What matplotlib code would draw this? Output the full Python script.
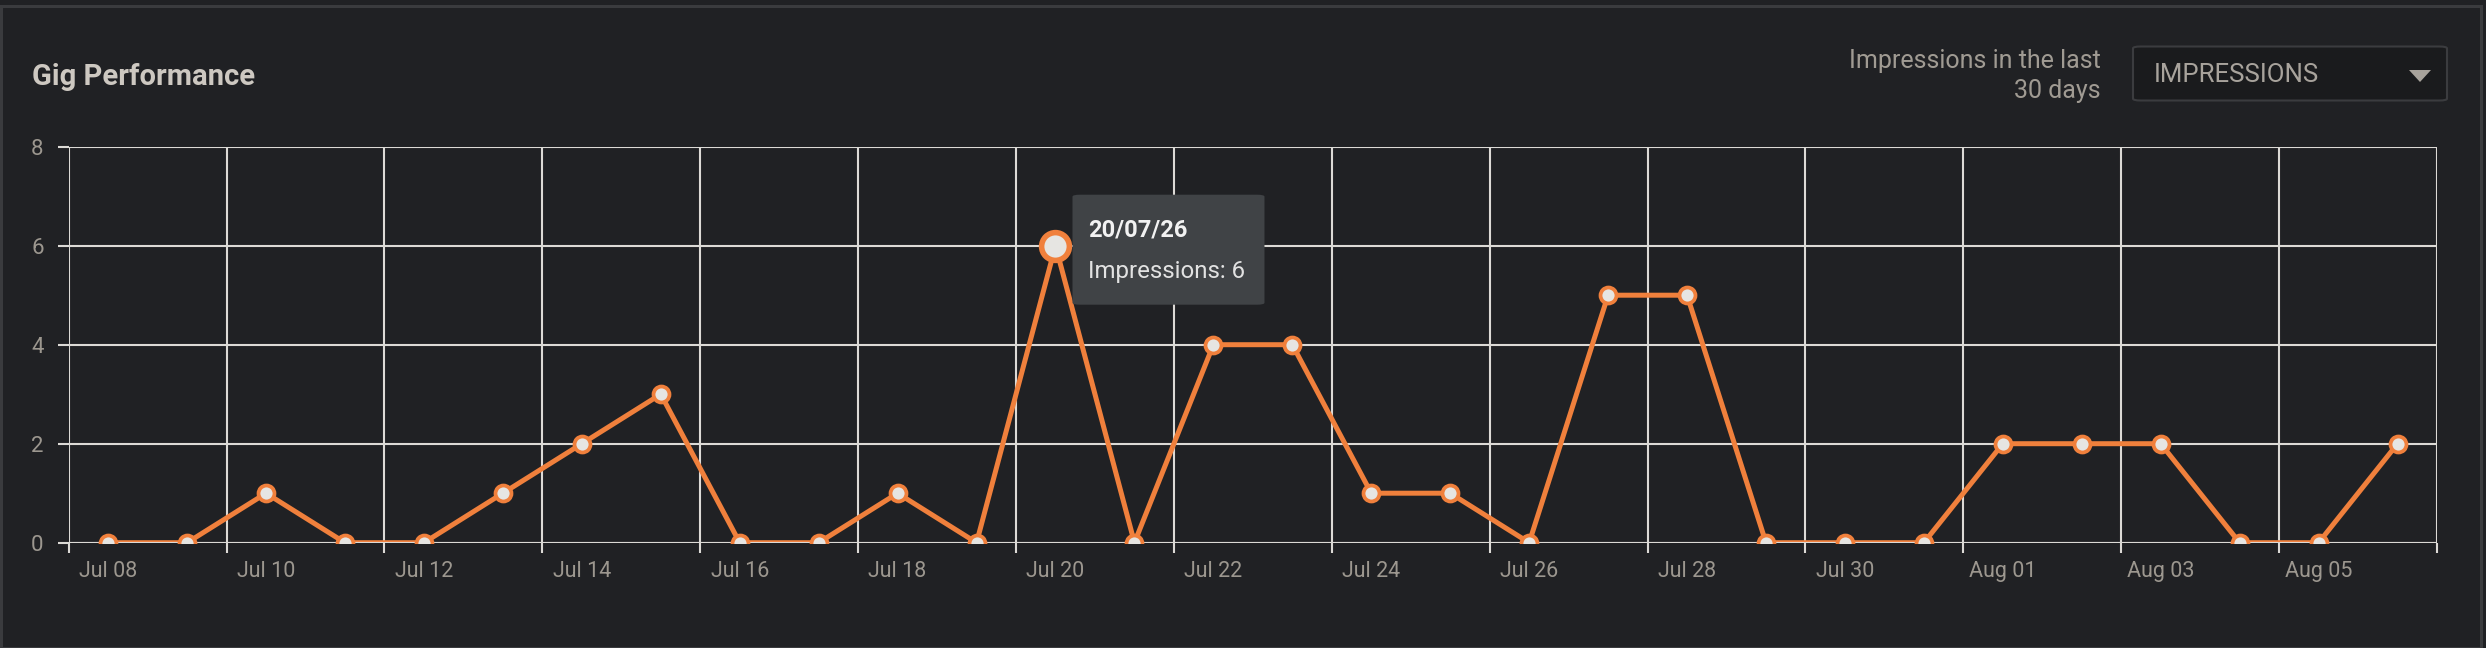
import numpy as np
import matplotlib
matplotlib.use("Agg")
import matplotlib.pyplot as plt
from matplotlib.patches import FancyBboxPatch, Rectangle, Polygon

plt.rcParams['font.family'] = ['Roboto', 'DejaVu Sans']

# data
days = ['Jul 08', 'Jul 09', 'Jul 10', 'Jul 11', 'Jul 12', 'Jul 13', 'Jul 14', 'Jul 15',
        'Jul 16', 'Jul 17', 'Jul 18', 'Jul 19', 'Jul 20', 'Jul 21', 'Jul 22', 'Jul 23',
        'Jul 24', 'Jul 25', 'Jul 26', 'Jul 27', 'Jul 28', 'Jul 29', 'Jul 30', 'Jul 31',
        'Aug 01', 'Aug 02', 'Aug 03', 'Aug 04', 'Aug 05', 'Aug 06']
impressions = [0, 0, 1, 0, 0, 1, 2, 3, 0, 0, 1, 0, 6, 0, 4, 4,
               1, 1, 0, 5, 5, 0, 0, 0, 2, 2, 2, 0, 0, 2]
y_ticks = [0, 2, 4, 6, 8]
hover_idx = 12
hover_date = '20/07/26'

bg = '#202124'
grid_c = '#dcdad6'
orange = '#f0803c'
dot_fill = '#e6e5e2'
label_c = '#9c978f'

W, H = 2486, 648
fig = plt.figure(figsize=(W / 100, H / 100), dpi=100, facecolor=bg)
ax = fig.add_axes([68.7 / W, 1 - 542.7 / H, (2437 - 68.7) / W, (542.7 - 146.7) / H])
ax.set_facecolor(bg)

x = np.arange(len(days))
ax.set_xlim(-0.5, len(days) - 0.5)
ax.set_ylim(0, 8)

for s in ax.spines.values():
    s.set_visible(False)

ax.set_xticks(np.arange(-0.5, len(days), 2))
ax.set_xticklabels([])
ax.set_xticks(x[::2], minor=True)
ax.set_xticklabels(days[::2], minor=True)
ax.set_yticks(y_ticks)
ax.tick_params(axis='x', which='major', length=7.2, width=1.5, color=grid_c)
ax.tick_params(axis='x', which='minor', length=0, pad=13, labelsize=15.5, labelcolor=label_c)
ax.tick_params(axis='y', length=8, width=1.5, color=grid_c, pad=10, labelsize=16, labelcolor=label_c)
ax.grid(True, which='major', color=grid_c, linewidth=1.5)
ax.set_axisbelow(True)

ax.plot(x, impressions, color=orange, linewidth=3.6, zorder=3)
ax.axhline(0, color=grid_c, linewidth=1.5, zorder=3.5)
ax.plot(x, impressions, 'o', markersize=11.5, markerfacecolor=dot_fill,
        markeredgecolor=orange, markeredgewidth=2.7, zorder=4)
ax.plot(x[hover_idx], impressions[hover_idx], 'o', markersize=20, markerfacecolor=dot_fill,
        markeredgecolor=orange, markeredgewidth=4, zorder=5, clip_on=False)

# tooltip box, placed relative to the hovered point (pixel offsets)
px, py = ax.transData.transform((x[hover_idx], impressions[hover_idx]))
bx0, bx1 = px + 17, px + 209
by0, by1 = py - 59, py + 51
fig.add_artist(FancyBboxPatch((bx0 / W, by0 / H), (bx1 - bx0) / W, (by1 - by0) / H,
                              boxstyle='round,pad=0,rounding_size=0.003',
                              transform=fig.transFigure, facecolor='#404346',
                              edgecolor='none', zorder=10))
fig.text((bx0 + 16) / W, (py + 9) / H, hover_date, color='#f2f2f2', fontsize=17,
         fontweight='bold', va='baseline', zorder=11)
fig.text((bx0 + 16) / W, (py - 32) / H, f'Impressions: {impressions[hover_idx]}',
         color='#e2e2e2', fontsize=17.3, va='baseline', zorder=11)

# header
fig.text(32 / W, 1 - 85 / H, 'Gig Performance', color='#cdc8c1', fontsize=21,
         fontweight='semibold', va='baseline')
fig.text(2101 / W, 1 - 68 / H, 'Impressions in the last', color='#a09b93', fontsize=18,
         ha='right', va='baseline')
fig.text(2101 / W, 1 - 98 / H, '30 days', color='#a09b93', fontsize=18,
         ha='right', va='baseline')

# dropdown
fig.add_artist(FancyBboxPatch((2133 / W, 1 - 100.5 / H), (2447 - 2133) / W, 54 / H,
                              boxstyle='round,pad=0,rounding_size=0.003',
                              transform=fig.transFigure, facecolor='#1a1b1d',
                              edgecolor='#3b3c3f', linewidth=1.5))
fig.text(2154 / W, 1 - 82 / H, 'IMPRESSIONS', color='#a8a39c', fontsize=18.5, va='baseline')
fig.add_artist(Polygon([(2409 / W, 1 - 70 / H), (2431 / W, 1 - 70 / H), (2420 / W, 1 - 82 / H)],
                       closed=True, transform=fig.transFigure, facecolor='#a8a39c',
                       edgecolor='none'))

# card border
fig.add_artist(Rectangle((1 / W, 0.5 / H), 2480 / W, 642 / H, transform=fig.transFigure,
                         facecolor='none', edgecolor='#3a3b3e', linewidth=2.2))

fig.savefig('out.png', dpi=100, facecolor=bg)
